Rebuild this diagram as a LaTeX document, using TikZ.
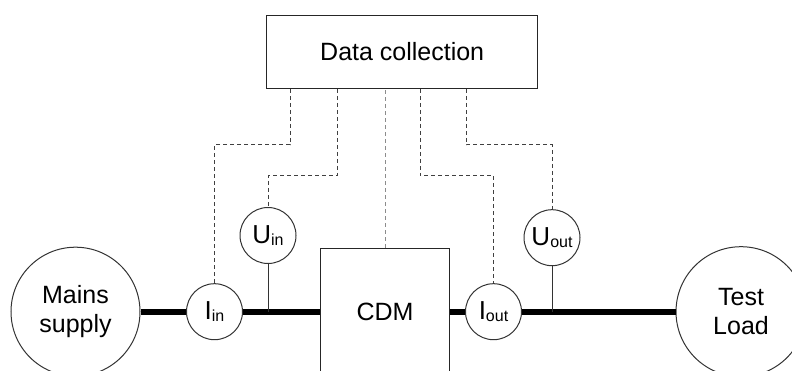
\documentclass[tikz,border=0pt]{standalone}
\usepackage{fontspec}
\setmainfont{Liberation Sans}
\newcommand\lowsub[1]{\raisebox{-2.5pt}{\fontsize{16}{16}\selectfont #1}}
\begin{document}
\begin{tikzpicture}[x=1pt,y=-1pt,
    txt/.style={font=\fontsize{25}{29}\selectfont, align=center, text=black},
    blockbox/.style={txt, draw=black!85, line width=1.2pt, inner sep=0pt},
    bigcirc/.style={txt, circle, draw=black!80, line width=1pt, inner sep=0pt},
    meter/.style={circle, draw=black!80, line width=1pt, inner sep=0pt,
                  minimum size=56pt, font=\fontsize{26}{26}\selectfont},
    power/.style={line width=6pt, black},
    tap/.style={line width=1pt, black!80},
    sig/.style={line width=0.9pt, black!75, dash pattern=on 4pt off 3pt},
    sigl/.style={sig, black!45}]
  \useasboundingbox (0,0) rectangle (792,371);
  \clip (0,0) rectangle (792,371);

  % blocks
  \node[blockbox, minimum width=271pt, minimum height=72.6pt] (dc) at (402.2,52) {Data collection};
  \node[blockbox, minimum width=128.6pt, minimum height=126.8pt] (cdm) at (385,311.7) {CDM};
  \node[bigcirc, minimum size=129pt] (mains) at (75.5,311.7) {Mains\\supply};
  \node[bigcirc, minimum size=130pt] (load) at (741,311.7) {Test\\Load};

  % measuring points
  \node[meter] (iin)  at (214.5,311.7) {I\lowsub{in}};
  \node[meter] (uin)  at (268,235.5)   {U\lowsub{in}};
  \node[meter] (iout) at (493.5,311.7) {I\lowsub{out}};
  \node[meter] (uout) at (552,237.7)   {U\lowsub{out}};

  % main power path
  \draw[power] (mains) -- (iin);
  \draw[power] (iin) -- (cdm);
  \draw[power] (cdm) -- (iout);
  \draw[power] (iout) -- (load);

  % voltage taps
  \draw[tap] (uin.south) -- (uin |- iin);
  \draw[tap] (uout.south) -- (uout |- iout);

  % signal lines to data collection
  \path (dc.south west) ++(24,0)  coordinate (t1);
  \path (dc.south west) ++(71,0)  coordinate (t2);
  \path (dc.south west) ++(154,0) coordinate (t4);
  \path (dc.south west) ++(200,0) coordinate (t5);
  \draw[sig] (t1) -- ++(0,56)   -| (iin.north);
  \draw[sig] (t2) -- ++(0,86.7) -| (uin.north);
  \draw[sig] (t4) -- ++(0,86.7) -| (iout.north);
  \draw[sig] (t5) -- ++(0,56)   -| (uout.north);
  \draw[sigl] (cdm.north) -- (cdm.north |- dc.south);
\end{tikzpicture}
\end{document}
